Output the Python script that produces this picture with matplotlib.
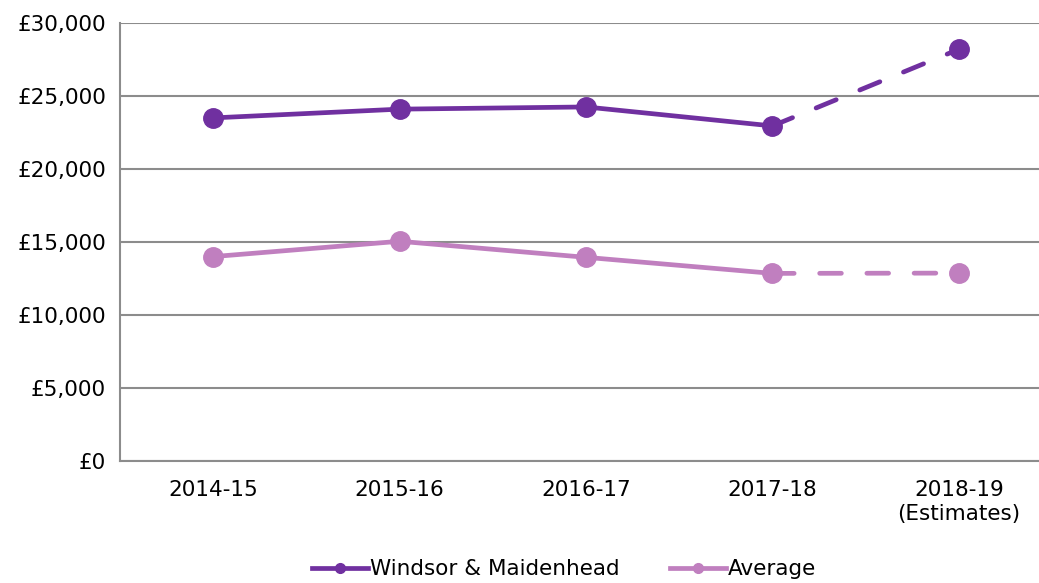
import matplotlib.pyplot as plt
from matplotlib.lines import Line2D

# data
jaren = ["2014-15", "2015-16", "2016-17", "2017-18", "2018-19\n(Estimates)"]
windsor = [23500, 24100, 24250, 22950, 28200]
gemiddelde = [14000, 15050, 13950, 12850, 12870]

kleur_windsor = "#7030A0"
kleur_gemiddeld = "#C07FBF"

plt.rcParams['font.family'] = ['DejaVu Sans']

fig = plt.figure(figsize=(10.39, 5.83), dpi=100)
ax = fig.add_axes([120 / 1039, 1 - 461 / 583, 919 / 1039, 438 / 583])

x = list(range(len(jaren)))
laatste = len(jaren) - 1

for reeks, kleur in [(windsor, kleur_windsor), (gemiddelde, kleur_gemiddeld)]:
    # gemeten jaren: doorgetrokken lijn
    ax.plot(x[:laatste], reeks[:laatste], color=kleur, lw=3.4,
            solid_capstyle='round', zorder=3)
    # schatting: gestreepte lijn
    ax.plot(x[laatste - 1:], reeks[laatste - 1:], color=kleur, lw=3.4,
            dashes=(4.6, 5.4), dash_capstyle='round', zorder=3)
    ax.plot(x, reeks, ls='none', marker='o', ms=14, color=kleur, zorder=4)

ax.set_xlim(-0.5, 4.43)
ax.set_ylim(0, 30000)
ax.set_yticks(range(0, 30001, 5000))
ax.set_yticklabels(["£{:,}".format(v) for v in range(0, 30001, 5000)])
ax.set_xticks(x)
ax.set_xticklabels(jaren)
ax.tick_params(axis='both', length=0, labelsize=15.5, colors='black')
ax.tick_params(axis='x', pad=14)
ax.tick_params(axis='y', pad=10)

ax.grid(axis='y', color='#8C8C8C', lw=1.5)
ax.set_axisbelow(True)
for kant in ['top', 'right']:
    ax.spines[kant].set_visible(False)
for kant in ['left', 'bottom']:
    ax.spines[kant].set_color('#8C8C8C')
    ax.spines[kant].set_linewidth(1.5)

handles = [
    Line2D([], [], color=kleur_windsor, lw=3.4, marker='o', ms=7),
    Line2D([], [], color=kleur_gemiddeld, lw=3.4, marker='o', ms=7),
]
fig.legend(handles, ["Windsor & Maidenhead", "Average"], loc='lower center',
           bbox_to_anchor=(0.543, -0.027), ncol=2, frameon=False, fontsize=15.5,
           handlelength=2.6, handletextpad=0.1, columnspacing=2.3)

fig.savefig("out.png", dpi=100)
